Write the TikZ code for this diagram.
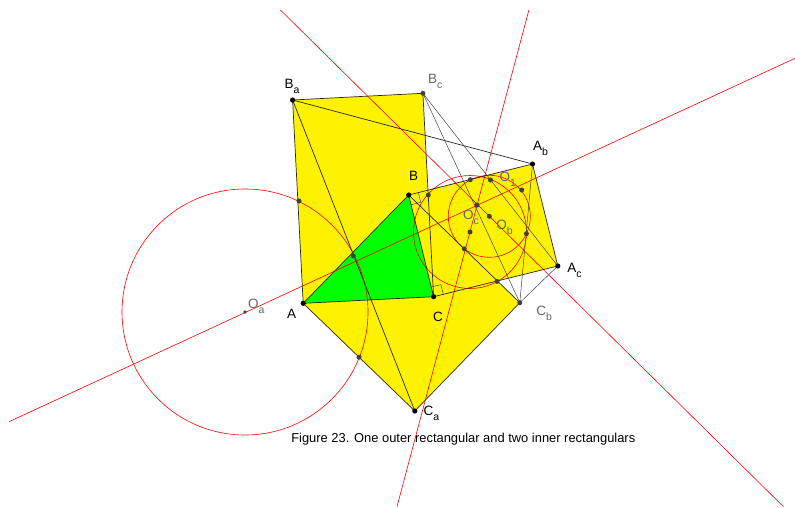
\documentclass[tikz,border=0pt]{standalone}
\usepackage{fontspec}
\setmainfont{Liberation Sans}
\usetikzlibrary{calc}
\begin{document}
\begin{tikzpicture}[x=1pt,y=-1pt,
  seg/.style={draw=black!85,line width=0.7pt},
  thinseg/.style={draw=black!75,line width=0.5pt},
  redline/.style={draw=red,line width=0.6pt},
  rect/.style={fill=yellow},
  tri/.style={fill=green},
  mainpt/.style={circle,fill=black,inner sep=0pt,minimum size=5.2pt},
  subpt/.style={circle,fill=black!75,inner sep=0pt,minimum size=5pt},
  lbl/.style={inner sep=0pt,anchor=base west,font=\fontsize{13.5}{15}\selectfont},
  glbl/.style={lbl,text=black!60},
  ang/.style={draw=black!70,line width=0.5pt}]
\newcommand{\sbs}[1]{\raisebox{-5pt}{\fontsize{10.5}{11}\selectfont #1}}
\useasboundingbox (0,0) rectangle (795,507);
% main points
\coordinate (A) at (303.2,303.3);
\coordinate (B) at (408.7,195);
\coordinate (C) at (433.6,296.7);
\coordinate (Ba) at (292.6,100);
\coordinate (Bc) at (422.9,93.3);
\coordinate (Ab) at (532.5,164);
\coordinate (Ac) at (557.8,266);
\coordinate (Cb) at (519.8,302.7);
\coordinate (Ca) at (414.8,411);
\coordinate (P) at (477,205);
\coordinate (Oa) at (245,312);
\coordinate (Ob) at (489.3,216.3);
\coordinate (Oc) at (470,232);
% red line ends
\coordinate (L1a) at (9,421.7);
\coordinate (L1b) at (795,58.3);
\coordinate (L2a) at (280.4,10);
\coordinate (L2b) at (783.5,506.7);
\coordinate (L3a) at (528.9,10);
\coordinate (L3b) at (397,506.7);
% angle mark helpers
\coordinate (c1) at ($(C)!10pt!(Ac)$);
\coordinate (c2) at ($(C)!10pt!(B)$);
\coordinate (c3) at ($(c1)+(c2)-(C)$);
\coordinate (b1) at ($(B)!10pt!(Ab)$);
\coordinate (b2) at ($(B)!10pt!(C)$);
\coordinate (b3) at ($(b1)+(b2)-(B)$);
% fills
\path[rect] (A) -- (C) -- (Bc) -- (Ba) -- cycle;
\path[rect] (B) -- (Ab) -- (Ac) -- (C) -- cycle;
\path[rect] (A) -- (B) -- (Cb) -- (Ca) -- cycle;
\path[tri] (A) -- (B) -- (C) -- cycle;
% right angle marks
\draw[ang] (c1) -- (c3) -- (c2);
\draw[ang] (b1) -- (b3) -- (b2);
% red circles and lines
\draw[redline] (Oa) circle (123);
\draw[redline] (Oc) circle (56.5);
\draw[redline] (Ob) circle (41);
\draw[redline] (L1a) -- (L1b);
\draw[redline] (L2a) -- (L2b);
\draw[redline] (L3a) -- (L3b);
% rectangle edges
\draw[seg] (A) -- (C) -- (Bc) -- (Ba) -- cycle;
\draw[seg] (B) -- (Ab) -- (Ac) -- (C) -- cycle;
\draw[seg] (A) -- (B) -- (Cb) -- (Ca) -- cycle;
% connecting lines
\draw[seg] (Ba) -- (Ca);
\draw[seg] (Ba) -- (Ab);
\draw[thinseg] (Bc) -- (Cb);
\draw[thinseg] (Bc) -- (Ac);
\draw[thinseg] (Ab) -- (Cb);
\draw[thinseg] (Cb) -- (Ac);
% secondary dots
\foreach \p in {(299,201),(353.3,256),(359,357.2),(428.3,195),(470.3,179.7),(490.5,180),(521.7,190),(526.4,233.7),(464.3,248.8),(497,281.4)}
  \node[subpt] at \p {};
\node[subpt] (nP) at (P) {};
\node[subpt,minimum size=3.8pt] (nOa) at (Oa) {};
\node[subpt] (nOb) at (Ob) {};
\node[subpt] (nOc) at (Oc) {};
% main dots
\foreach \q in {A,B,C,Ba,Ab,Ac,Ca}
  \node[mainpt] at (\q) {};
\node[subpt] at (Bc) {};
\node[subpt] at (Cb) {};
% labels
\node[lbl] (tBa) at (284.5,88.3) {B\sbs{a}};
\node[glbl] (tBc) at (428,83.3) {B\sbs{c}};
\node[lbl] (tAb) at (533,150) {A\sbs{b}};
\node[lbl] (tB) at (408.8,180.7) {B};
\node[glbl] (tO1) at (499.5,181.7) {O\sbs{1}};
\node[glbl] (tOc) at (462.8,219.3) {O\sbs{c}};
\node[glbl] (tOb) at (496.2,229.3) {O\sbs{b}};
\node[lbl] (tAc) at (567.2,272.7) {A\sbs{c}};
\node[lbl] (tC) at (432.8,321) {C};
\node[glbl] (tCb) at (536.2,315) {C\sbs{b}};
\node[lbl] (tA) at (286.8,318.3) {A};
\node[glbl] (tOa) at (247.8,308.3) {O\sbs{a}};
\node[lbl] (tCa) at (423.5,415) {C\sbs{a}};
\node[anchor=base,inner sep=0pt,font=\fontsize{12.9}{15}\selectfont] (cap) at (463.3,442.3) {Figure 23. One outer rectangular and two inner rectangulars};
\end{tikzpicture}
\end{document}
